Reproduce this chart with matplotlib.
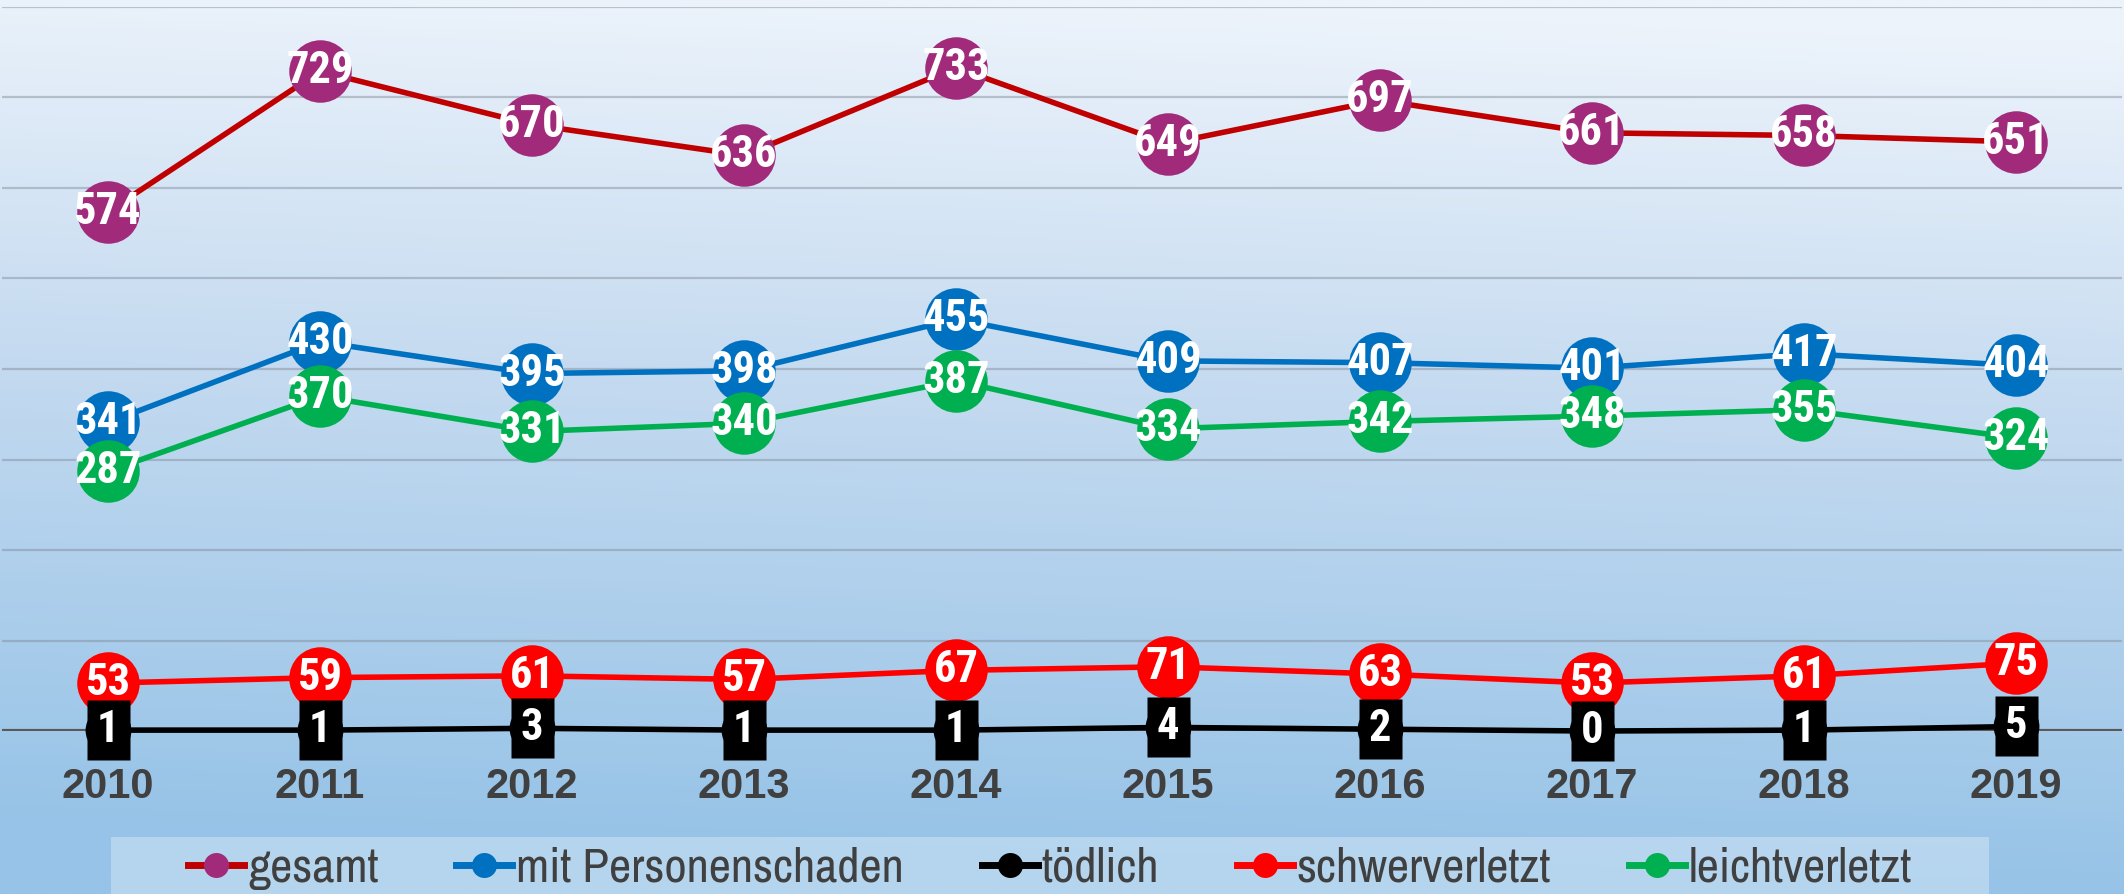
import numpy as np
import matplotlib
matplotlib.use('Agg')
import matplotlib.pyplot as plt
from matplotlib.path import Path

years = ['2010', '2011', '2012', '2013', '2014', '2015', '2016', '2017', '2018', '2019']
gesamt = [574, 729, 670, 636, 733, 649, 697, 661, 658, 651]
personenschaden = [341, 430, 395, 398, 455, 409, 407, 401, 417, 404]
toedlich = [1, 1, 3, 1, 1, 4, 2, 0, 1, 5]
schwer = [53, 59, 61, 57, 67, 71, 63, 53, 61, 75]
leicht = [287, 370, 331, 340, 387, 334, 342, 348, 355, 324]

fig = plt.figure(figsize=(21.24, 8.94), dpi=100)

# background gradient
bg = fig.add_axes([0, 0, 1, 1], zorder=-10)
yy, xx = np.mgrid[0:1:300j, 0:1:600j]
top = np.array([236, 243, 251]) / 255
mid = np.array([196, 218, 240]) / 255
bot = np.array([150, 195, 231]) / 255
t = np.clip(yy * 1.05 - 0.08 * xx + 0.03, 0, 1)
img = np.where(t[..., None] < 0.45,
               top + (mid - top) * (t[..., None] / 0.45),
               mid + (bot - mid) * ((t[..., None] - 0.45) / 0.55))
bg.imshow(img, aspect='auto', extent=[0, 1, 0, 1], origin='upper')
bg.axis('off')

ax = fig.add_axes([0.001, 0.1823, 0.998, 0.8099])
ax.patch.set_alpha(0)
x = np.arange(len(years))

lw = 4
ms = 45
ax.plot(x, gesamt, color='#C00000', lw=lw, marker='o', ms=ms, mfc='#A12B7A', mec='none', label='gesamt', zorder=3)
ax.plot(x, personenschaden, color='#0070C0', lw=lw, marker='o', ms=ms, mfc='#0070C0', mec='none', label='mit Personenschaden', zorder=3)
ax.plot(x, toedlich, color='black', lw=lw, marker='o', ms=33, mfc='black', mec='none', label='tödlich', zorder=3, clip_on=False)
ax.plot(x, schwer, color='#FF0000', lw=lw, marker='o', ms=ms, mfc='#FF0000', mec='none', label='schwerverletzt', zorder=3)
ax.plot(x, leicht, color='#00B050', lw=lw, marker='o', ms=ms, mfc='#00B050', mec='none', label='leichtverletzt', zorder=3)

# black label boxes of tödlich
rect = Path([(-0.36, -0.5), (0.36, -0.5), (0.36, 0.5), (-0.36, 0.5), (-0.36, -0.5)])
ax.plot(x, toedlich, ls='none', marker=rect, ms=43, mfc='black', mec='none', zorder=4, clip_on=False)

lab_font = dict(family=['Roboto Condensed', 'Barlow Semi Condensed', 'Liberation Sans'], weight='bold',
                size=32, color='white', ha='center', va='center', zorder=6, clip_on=False)
for series in [gesamt, personenschaden, toedlich, schwer, leicht]:
    for i, v in enumerate(series):
        ax.text(x[i], v, str(v), **lab_font)

ax.set_xlim(-0.5, len(years) - 0.5)
ax.set_ylim(0, 800)
ax.set_yticks(np.arange(100, 801, 100))
ax.yaxis.grid(True, color='#7F8896', alpha=0.45, lw=1.6, zorder=0)
ax.set_axisbelow(True)
ax.axhline(0, color='#595959', lw=3, zorder=1)
ax.tick_params(axis='y', length=0, labelleft=False)
ax.tick_params(axis='x', length=0, pad=26)
ax.set_xticks(x)
ax.set_xticklabels(years, fontsize=30, fontweight='bold', color='#404040', family='Liberation Sans')
for s in ax.spines.values():
    s.set_visible(False)

# legend area
fig.patches.append(plt.Rectangle((111 / 2124, 0), (1989 - 111) / 2124, 57 / 894,
                                 transform=fig.transFigure, facecolor='white', alpha=0.3,
                                 edgecolor='none', zorder=-5))
handles, labels = ax.get_legend_handles_labels()
leg = fig.legend(handles, labels, loc='center', bbox_to_anchor=(0.4944, 0.029), ncol=5,
                 frameon=False, handlelength=1.15, handletextpad=0.08, columnspacing=1.6,
                 markerscale=0.4,
                 prop={'family': ['Archivo Narrow', 'Liberation Sans'], 'size': 35})
for h in leg.legend_handles:
    h.set_linewidth(5)
    h.set_markersize(18)
for txt in leg.get_texts():
    txt.set_color('#404040')

fig.savefig('out.png', dpi=100)
